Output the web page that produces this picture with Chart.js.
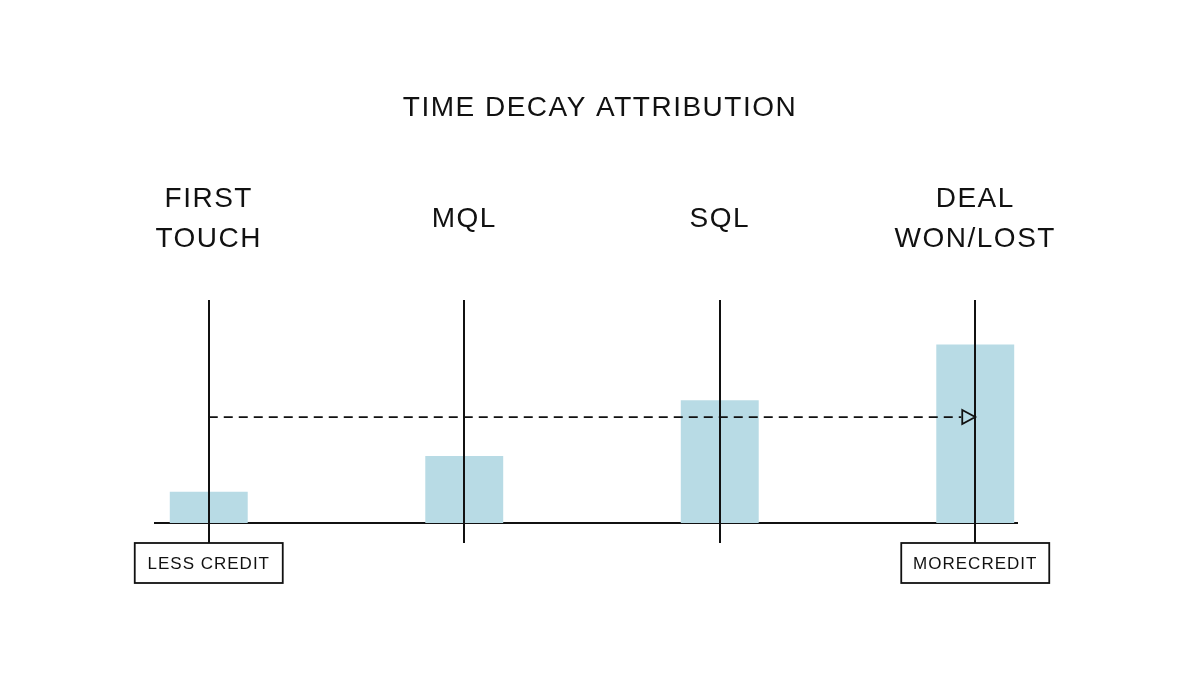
<!DOCTYPE html>
<html>
<head>
<meta charset="utf-8">
<script src="https://cdn.jsdelivr.net/npm/chart.js@4"></script>
<style>
  body { margin: 0; background: #fff; }
  #wrap { width: 1200px; height: 676px; }
</style>
</head>
<body>
<div id="wrap"><canvas id="myChart" width="1200" height="676"></canvas></div>
<script>
const categories = [['FIRST', 'TOUCH'], ['MQL'], ['SQL'], ['DEAL', 'WON/LOST']];
const credit = [14, 30, 55, 80];
const creditMax = 100;
const arrowLevel = 47.5;
const endLabels = ['LESS CREDIT', 'MORECREDIT'];
const title = 'TIME DECAY ATTRIBUTION';

const ink = '#111111';
const font = '"Liberation Sans", Arial, sans-serif';

// lineas, textos y flecha dibujados encima del chart
const decoracion = {
  id: 'decoracion',
  beforeDatasetsDraw(chart) {
    const { ctx, scales: { y } } = chart;
    const base = y.getPixelForValue(0);
    ctx.save();
    ctx.strokeStyle = ink;
    ctx.lineWidth = 2;
    // linea base
    ctx.beginPath();
    ctx.moveTo(154, base);
    ctx.lineTo(1018, base);
    ctx.stroke();
    ctx.restore();
  },
  afterDatasetsDraw(chart) {
    const { ctx, chartArea, scales: { x, y } } = chart;
    const base = y.getPixelForValue(0);
    ctx.save();
    ctx.strokeStyle = ink;
    ctx.fillStyle = ink;
    ctx.lineWidth = 2;

    // verticales
    categories.forEach((c, i) => {
      const px = Math.round(x.getPixelForValue(i));
      ctx.beginPath();
      ctx.moveTo(px, chartArea.top);
      ctx.lineTo(px, base + 20);
      ctx.stroke();
    });

    // titulo
    ctx.textAlign = 'center';
    ctx.textBaseline = 'middle';
    ctx.letterSpacing = '1.5px';
    ctx.font = '28px ' + font;
    ctx.fillText(title, 600, 108);

    // etiquetas de categorias
    ctx.font = '28px ' + font;
    categories.forEach((c, i) => {
      const px = x.getPixelForValue(i);
      if (c.length === 2) {
        ctx.fillText(c[0], px, 199);
        ctx.fillText(c[1], px, 239);
      } else {
        ctx.fillText(c[0], px, 219);
      }
    });

    // flecha punteada
    const ay = y.getPixelForValue(arrowLevel);
    const x0 = x.getPixelForValue(0);
    const x3 = x.getPixelForValue(categories.length - 1);
    ctx.lineWidth = 1.8;
    ctx.setLineDash([9, 6]);
    ctx.beginPath();
    ctx.moveTo(x0, ay);
    ctx.lineTo(x3 - 14, ay);
    ctx.stroke();
    ctx.setLineDash([]);
    ctx.beginPath();
    ctx.moveTo(x3 - 13, ay - 7);
    ctx.lineTo(x3, ay);
    ctx.lineTo(x3 - 13, ay + 7);
    ctx.closePath();
    ctx.stroke();

    // cajas de credito
    ctx.font = '17px ' + font;
    ctx.letterSpacing = '1px';
    [0, categories.length - 1].forEach((idx, k) => {
      const px = x.getPixelForValue(idx);
      const w = 148, h = 40, top = base + 20;
      ctx.fillStyle = '#fff';
      ctx.fillRect(px - w / 2, top, w, h);
      ctx.strokeRect(px - w / 2, top, w, h);
      ctx.fillStyle = ink;
      ctx.fillText(endLabels[k], px, top + h / 2 + 1);
    });
    ctx.restore();
  }
};

const myChart = new Chart(document.getElementById('myChart'), {
  type: 'bar',
  data: {
    labels: categories.map(c => c.join(' ')),
    datasets: [{
      label: 'Credito',
      data: credit,
      backgroundColor: '#b8dbe5',
      borderWidth: 0,
      barPercentage: 0.305,
      categoryPercentage: 1
    }]
  },
  options: {
    responsive: false,
    animation: false,
    layout: { padding: { left: 81, right: 97, top: 300, bottom: 153 } },
    plugins: { legend: { display: false }, tooltip: { enabled: false } },
    scales: {
      x: { display: false },
      y: { display: false, min: 0, max: creditMax }
    }
  },
  plugins: [decoracion]
});
</script>
</body>
</html>
